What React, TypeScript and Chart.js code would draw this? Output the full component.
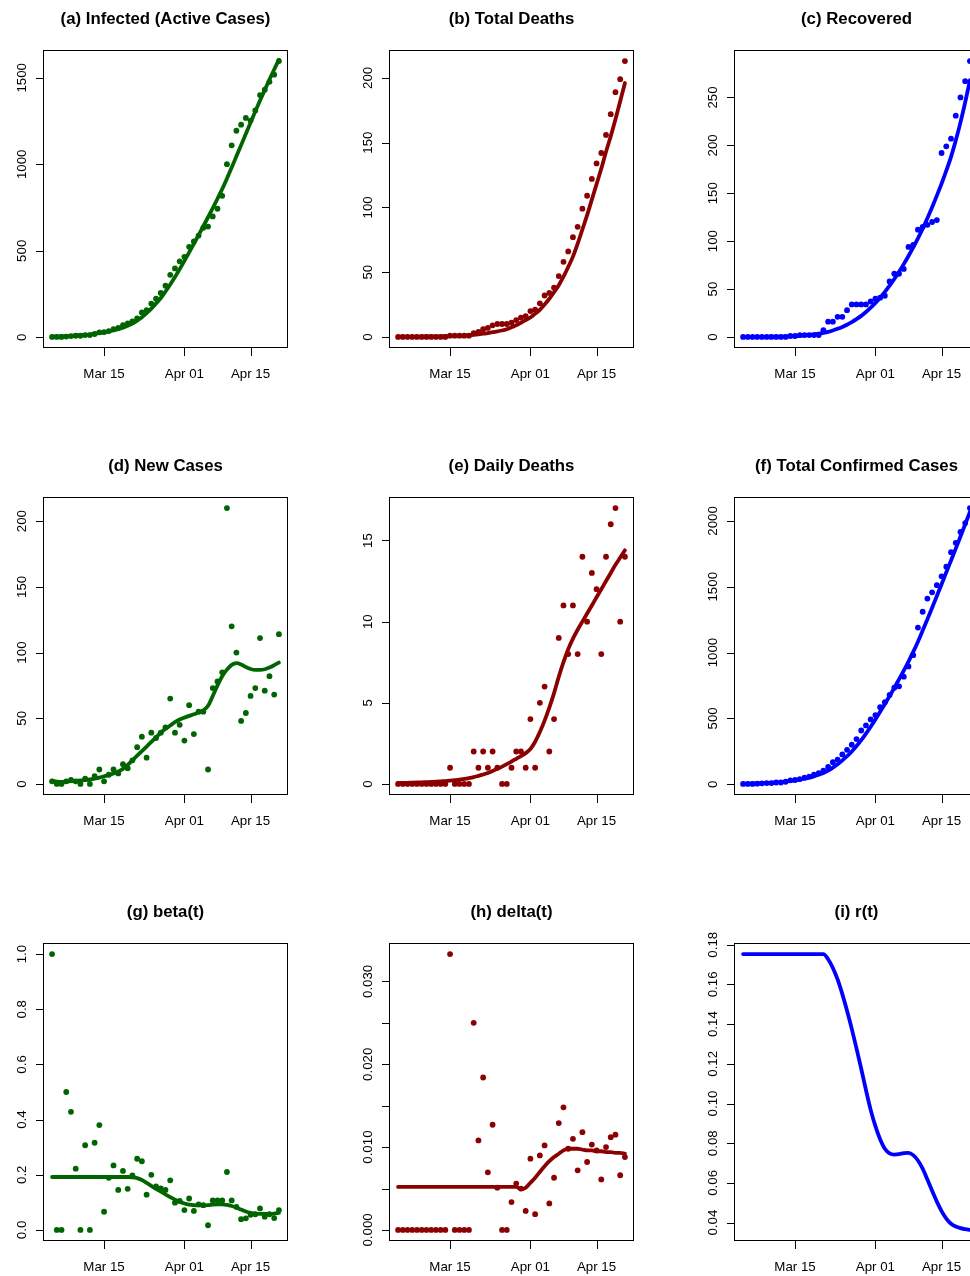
import React, { useEffect, useRef } from 'react';
import { Chart, registerables } from 'chart.js';

Chart.register(...registerables);

// Day index 0 = Mar 04, index 48 = Apr 21
const xTickDays = [11, 28, 42];
const xTickLabels = ['Mar 15', 'Apr 01', 'Apr 15'];

// (a) Infected (Active Cases)
const activeObs = [2, 2, 2, 4, 7, 9, 9, 13, 13, 19, 29, 30, 36, 47, 55, 70, 80, 92, 109, 144, 157, 195, 223, 256, 298, 361, 398, 439, 465, 523, 554, 588, 633, 640, 699, 743, 818, 1001, 1110, 1194, 1229, 1268, 1253, 1311, 1400, 1431, 1477, 1518, 1597];
const activeFit = [4, 5, 6, 7, 8, 10, 12, 14, 17, 20, 24, 29, 34, 40, 47, 56, 67, 80, 96, 116, 140, 166, 195, 227, 265, 305, 348, 394, 442, 491, 541, 591, 642, 694, 747, 801, 857, 918, 981, 1046, 1111, 1176, 1241, 1306, 1369, 1430, 1490, 1548, 1605];

// (b) Total Deaths
const deathsObs = [0, 0, 0, 0, 0, 0, 0, 0, 0, 0, 0, 1, 1, 1, 1, 1, 3, 4, 6, 7, 9, 10, 10, 10, 11, 13, 15, 16, 20, 21, 26, 32, 34, 38, 47, 58, 66, 77, 85, 99, 109, 122, 134, 142, 156, 172, 189, 199, 213];
const deathsFit = [0.2, 0.2, 0.2, 0.3, 0.3, 0.3, 0.4, 0.4, 0.5, 0.5, 0.6, 0.7, 0.8, 0.9, 1.1, 1.3, 1.6, 2.0, 2.5, 3.0, 3.7, 4.3, 5.0, 6.0, 7.5, 9, 11, 13, 15, 18, 21, 25, 29.5, 34.5, 40, 46.5, 54, 62, 72, 83, 94, 106, 118, 130, 143, 155, 168, 182, 196];

// (c) Recovered
const recoveredObs = [0, 0, 0, 0, 0, 0, 0, 0, 0, 0, 1, 1, 2, 2, 2, 2, 2, 7, 16, 16, 21, 21, 28, 34, 34, 34, 34, 37, 40, 41, 43, 58, 66, 66, 71, 94, 96, 112, 115, 117, 120, 122, 192, 199, 207, 231, 250, 267, 288];
const recoveredFit = [0, 0, 0, 0.1, 0.1, 0.2, 0.2, 0.3, 0.4, 0.5, 0.7, 0.9, 1.2, 1.6, 2.1, 2.7, 3.4, 4.3, 5.4, 6.8, 8.5, 10.5, 12.8, 15.5, 18.6, 22, 26, 30.5, 35.5, 41, 47, 53.5, 60.5, 68, 76, 84.5, 93.5, 103, 113, 124, 135.5, 147.5, 160, 173.5, 188, 205, 224, 245, 268];

// (d) New Cases
const newCasesObs = [2, 0, 0, 2, 3, 2, 0, 4, 0, 6, 11, 2, 7, 11, 8, 15, 12, 18, 28, 36, 20, 39, 35, 39, 43, 65, 39, 45, 33, 60, 38, 55, 55, 11, 73, 78, 85, 210, 120, 100, 48, 54, 67, 73, 111, 71, 82, 68, 114];
const newCasesFit = [2.5, 1.8, 1.5, 1.8, 2.1, 2.4, 2.7, 3.0, 3.4, 4.0, 4.8, 5.8, 6.8, 8.0, 9.5, 11.5, 14.5, 18, 21.5, 25, 28.5, 32, 35.5, 39, 42, 44.5, 47, 49, 50.5, 51.8, 53, 54.3, 56, 59.5, 67, 75, 82, 87, 90.6, 92, 91, 89, 87.5, 86.8, 86.8, 87.3, 88.6, 90.4, 92.4];

// (e) Daily Deaths
const dailyDeathsObs = [0, 0, 0, 0, 0, 0, 0, 0, 0, 0, 0, 1, 0, 0, 0, 0, 2, 1, 2, 1, 2, 1, 0, 0, 1, 2, 2, 1, 4, 1, 5, 6, 2, 4, 9, 11, 8, 11, 8, 14, 10, 13, 12, 8, 14, 16, 17, 10, 14];
const dailyDeathsFit = [0.05, 0.06, 0.07, 0.08, 0.09, 0.1, 0.11, 0.12, 0.14, 0.16, 0.18, 0.2, 0.23, 0.27, 0.31, 0.36, 0.42, 0.5, 0.58, 0.68, 0.8, 0.93, 1.07, 1.22, 1.38, 1.55, 1.72, 1.9, 2.15, 2.6, 3.2, 3.9, 4.7, 5.6, 6.6, 7.5, 8.3, 8.95, 9.5, 10.0, 10.5, 11.0, 11.5, 12.0, 12.5, 13.0, 13.5, 13.95, 14.4];

// (f) Total Confirmed Cases
const confirmedObs = [2, 2, 2, 4, 7, 9, 9, 13, 13, 19, 30, 32, 39, 50, 58, 73, 85, 103, 131, 167, 187, 226, 261, 300, 343, 408, 447, 492, 525, 585, 623, 678, 733, 744, 817, 895, 980, 1190, 1310, 1410, 1458, 1512, 1579, 1652, 1763, 1834, 1916, 1984, 2098];
const confirmedFit = [4, 5, 6, 7, 8, 10, 12, 14, 17, 20, 25, 30, 35, 42, 50, 60, 72, 86, 104, 126, 151, 181, 213, 249, 290, 335, 385, 437, 492, 550, 609, 670, 732, 797, 863, 932, 1005, 1083, 1167, 1253, 1341, 1430, 1519, 1610, 1700, 1790, 1882, 1975, 2069];

// (g) beta(t)
const betaObs = [1.0, 0, 0, 0.5, 0.428, 0.222, 0, 0.307, 0, 0.316, 0.38, 0.066, 0.189, 0.234, 0.145, 0.214, 0.149, 0.198, 0.258, 0.249, 0.128, 0.2, 0.158, 0.151, 0.145, 0.18, 0.099, 0.105, 0.072, 0.114, 0.069, 0.093, 0.09, 0.017, 0.107, 0.107, 0.107, 0.21, 0.107, 0.084, 0.039, 0.042, 0.055, 0.057, 0.078, 0.048, 0.057, 0.043, 0.072];
const betaFit = [0.192, 0.192, 0.192, 0.192, 0.192, 0.192, 0.192, 0.192, 0.192, 0.192, 0.192, 0.192, 0.192, 0.192, 0.192, 0.192, 0.192, 0.191, 0.188, 0.181, 0.171, 0.16, 0.149, 0.139, 0.129, 0.119, 0.11, 0.102, 0.096, 0.092, 0.09, 0.089, 0.089, 0.09, 0.092, 0.093, 0.093, 0.091, 0.087, 0.081, 0.074, 0.067, 0.062, 0.059, 0.058, 0.058, 0.058, 0.059, 0.062];

// (h) delta(t)
const deltaObs = [0, 0, 0, 0, 0, 0, 0, 0, 0, 0, 0, 0.0333, 0, 0, 0, 0, 0.025, 0.0108, 0.0184, 0.00695, 0.0127, 0.0051, 0, 0, 0.00337, 0.0056, 0.005, 0.0023, 0.0086, 0.0019, 0.009, 0.0102, 0.0032, 0.0063, 0.0129, 0.0148, 0.0098, 0.011, 0.0072, 0.0118, 0.0082, 0.0103, 0.0096, 0.0061, 0.01, 0.0112, 0.0115, 0.0066, 0.0088];
const deltaFit = [0.0052, 0.0052, 0.0052, 0.0052, 0.0052, 0.0052, 0.0052, 0.0052, 0.0052, 0.0052, 0.0052, 0.0052, 0.0052, 0.0052, 0.0052, 0.0052, 0.0052, 0.0052, 0.0052, 0.0052, 0.0052, 0.0052, 0.0052, 0.0052, 0.0052, 0.0052, 0.0049, 0.0051, 0.0057, 0.0063, 0.007, 0.0077, 0.0083, 0.0088, 0.0092, 0.0096, 0.0098, 0.0098, 0.0098, 0.0097, 0.0096, 0.0096, 0.0095, 0.0095, 0.0094, 0.0094, 0.0093, 0.0093, 0.0092];

// (i) r(t)
const rFit = [0.1753, 0.1753, 0.1753, 0.1753, 0.1753, 0.1753, 0.1753, 0.1753, 0.1753, 0.1753, 0.1753, 0.1753, 0.1753, 0.1753, 0.1753, 0.1753, 0.1753, 0.1753, 0.1727, 0.1683, 0.1625, 0.1551, 0.1467, 0.1376, 0.1278, 0.1175, 0.1068, 0.0968, 0.0886, 0.0820, 0.0772, 0.0749, 0.0743, 0.0745, 0.0750, 0.0751, 0.0740, 0.0713, 0.0672, 0.0617, 0.0560, 0.0506, 0.0458, 0.0420, 0.0394, 0.0380, 0.0372, 0.0367, 0.0363];

// y-axis ticks and their labels
const yTicksA = [0, 500, 1000, 1500];
const yLabelsA = ['0', '500', '1000', '1500'];
const yTicksB = [0, 50, 100, 150, 200];
const yLabelsB = ['0', '50', '100', '150', '200'];
const yTicksC = [0, 50, 100, 150, 200, 250];
const yLabelsC = ['0', '50', '100', '150', '200', '250'];
const yTicksD = [0, 50, 100, 150, 200];
const yLabelsD = ['0', '50', '100', '150', '200'];
const yTicksE = [0, 5, 10, 15];
const yLabelsE = ['0', '5', '10', '15'];
const yTicksF = [0, 500, 1000, 1500, 2000];
const yLabelsF = ['0', '500', '1000', '1500', '2000'];
const yTicksG = [0, 0.2, 0.4, 0.6, 0.8, 1.0];
const yLabelsG = ['0.0', '0.2', '0.4', '0.6', '0.8', '1.0'];
const yTicksH = [0, 0.005, 0.01, 0.015, 0.02, 0.025, 0.03];
const yLabelsH = ['0.000', '', '0.010', '', '0.020', '', '0.030'];
const yTicksI = [0.04, 0.06, 0.08, 0.1, 0.12, 0.14, 0.16, 0.18];
const yLabelsI = ['0.04', '0.06', '0.08', '0.10', '0.12', '0.14', '0.16', '0.18'];

const GREEN = '#006400';
const RED = '#8B0000';
const BLUE = '#0000FF';

const FONT = '"Liberation Sans", Arial, Helvetica, sans-serif';

const CANVAS_W = 345;
const CANVAS_H = 446;
const PAD = { left: 43, top: 50, right: 57, bottom: 98 };
const COL_LEFT = [0, 346, 691];
const ROW_TOP = [0, 447, 893];

type PanelCfg = {
  title: string;
  color: string;
  obs: number[] | null;
  fit: number[];
  yTicks: number[];
  yLabels: string[];
};

const panels: PanelCfg[] = [
  { title: '(a) Infected (Active Cases)', color: GREEN, obs: activeObs, fit: activeFit, yTicks: yTicksA, yLabels: yLabelsA },
  { title: '(b) Total Deaths', color: RED, obs: deathsObs, fit: deathsFit, yTicks: yTicksB, yLabels: yLabelsB },
  { title: '(c) Recovered', color: BLUE, obs: recoveredObs, fit: recoveredFit, yTicks: yTicksC, yLabels: yLabelsC },
  { title: '(d) New Cases', color: GREEN, obs: newCasesObs, fit: newCasesFit, yTicks: yTicksD, yLabels: yLabelsD },
  { title: '(e) Daily Deaths', color: RED, obs: dailyDeathsObs, fit: dailyDeathsFit, yTicks: yTicksE, yLabels: yLabelsE },
  { title: '(f) Total Confirmed Cases', color: BLUE, obs: confirmedObs, fit: confirmedFit, yTicks: yTicksF, yLabels: yLabelsF },
  { title: '(g) beta(t)', color: GREEN, obs: betaObs, fit: betaFit, yTicks: yTicksG, yLabels: yLabelsG },
  { title: '(h) delta(t)', color: RED, obs: deltaObs, fit: deltaFit, yTicks: yTicksH, yLabels: yLabelsH },
  { title: '(i) r(t)', color: BLUE, obs: null, fit: rFit, yTicks: yTicksI, yLabels: yLabelsI },
];

function rRange(values: number[]) {
  const mn = Math.min(...values);
  const mx = Math.max(...values);
  const pad = (mx - mn) * 0.04;
  return { min: mn - pad, max: mx + pad };
}

function makeFramePlugin(cfg: PanelCfg) {
  return {
    id: 'rframe',
    afterDraw(chart: any) {
      const { ctx, chartArea: a, scales } = chart;
      const xs = scales.x;
      const ys = scales.y;
      ctx.save();
      ctx.strokeStyle = '#000';
      ctx.lineWidth = 1;
      ctx.strokeRect(a.left + 0.5, a.top + 0.5, a.right - a.left - 1, a.bottom - a.top - 1);
      ctx.beginPath();
      for (const d of xTickDays) {
        const px = Math.round(xs.getPixelForValue(d)) + 0.5;
        ctx.moveTo(px, a.bottom);
        ctx.lineTo(px, a.bottom + 8);
      }
      for (const v of cfg.yTicks) {
        const py = Math.round(ys.getPixelForValue(v)) + 0.5;
        ctx.moveTo(a.left, py);
        ctx.lineTo(a.left - 7, py);
      }
      ctx.stroke();

      ctx.fillStyle = '#000';
      ctx.font = '13.3px ' + FONT;
      ctx.textAlign = 'center';
      ctx.textBaseline = 'alphabetic';
      xTickDays.forEach((d, k) => {
        ctx.fillText(xTickLabels[k], xs.getPixelForValue(d), a.bottom + 30);
      });
      cfg.yTicks.forEach((v, k) => {
        const lab = cfg.yLabels[k];
        if (!lab) return;
        ctx.save();
        ctx.translate(a.left - 17, ys.getPixelForValue(v));
        ctx.rotate(-Math.PI / 2);
        ctx.fillText(lab, 0, 0);
        ctx.restore();
      });
      ctx.font = 'bold 16.8px ' + FONT;
      ctx.fillText(cfg.title, (a.left + a.right) / 2, 23.5);
      ctx.restore();
    },
  };
}

function Panel({ cfg, left, top }: { cfg: PanelCfg; left: number; top: number }) {
  const ref = useRef<HTMLCanvasElement | null>(null);
  useEffect(() => {
    if (!ref.current) return;
    const n = cfg.fit.length;
    const yr = rRange(cfg.obs ? cfg.obs : cfg.fit);
    const datasets: any[] = [
      {
        data: cfg.fit.map((y, i) => ({ x: i, y })),
        borderColor: cfg.color,
        backgroundColor: cfg.color,
        borderWidth: 3.8,
        pointRadius: 0,
        cubicInterpolationMode: 'monotone',
        fill: false,
        borderCapStyle: 'round',
        borderJoinStyle: 'round',
      },
    ];
    if (cfg.obs) {
      datasets.push({
        data: cfg.obs.map((y, i) => ({ x: i, y })),
        showLine: false,
        pointRadius: 2.9,
        pointStyle: 'circle',
        pointBorderWidth: 0,
        pointBackgroundColor: cfg.color,
        borderColor: cfg.color,
        backgroundColor: cfg.color,
      });
    }
    const chart = new Chart(ref.current, {
      type: 'line',
      data: { datasets },
      options: {
        responsive: false,
        animation: false,
        devicePixelRatio: 1,
        events: [],
        layout: { padding: PAD },
        plugins: {
          legend: { display: false },
          tooltip: { enabled: false },
          title: { display: false },
        },
        scales: {
          x: { type: 'linear', display: false, min: -0.04 * (n - 1), max: (n - 1) * 1.04 },
          y: { type: 'linear', display: false, min: yr.min, max: yr.max },
        },
      },
      plugins: [makeFramePlugin(cfg)],
    } as any);
    return () => chart.destroy();
  }, [cfg]);
  return (
    <canvas
      ref={ref}
      width={CANVAS_W}
      height={CANVAS_H}
      style={{ position: 'absolute', left, top, width: CANVAS_W, height: CANVAS_H, display: 'block' }}
    />
  );
}

export default function App() {
  return (
    <div
      style={{
        position: 'absolute',
        left: 0,
        top: 0,
        width: 970,
        height: 1276,
        overflow: 'hidden',
        background: '#fff',
      }}
    >
      {panels.map((p, k) => (
        <Panel key={k} cfg={p} left={COL_LEFT[k % 3]} top={ROW_TOP[Math.floor(k / 3)]} />
      ))}
    </div>
  );
}
